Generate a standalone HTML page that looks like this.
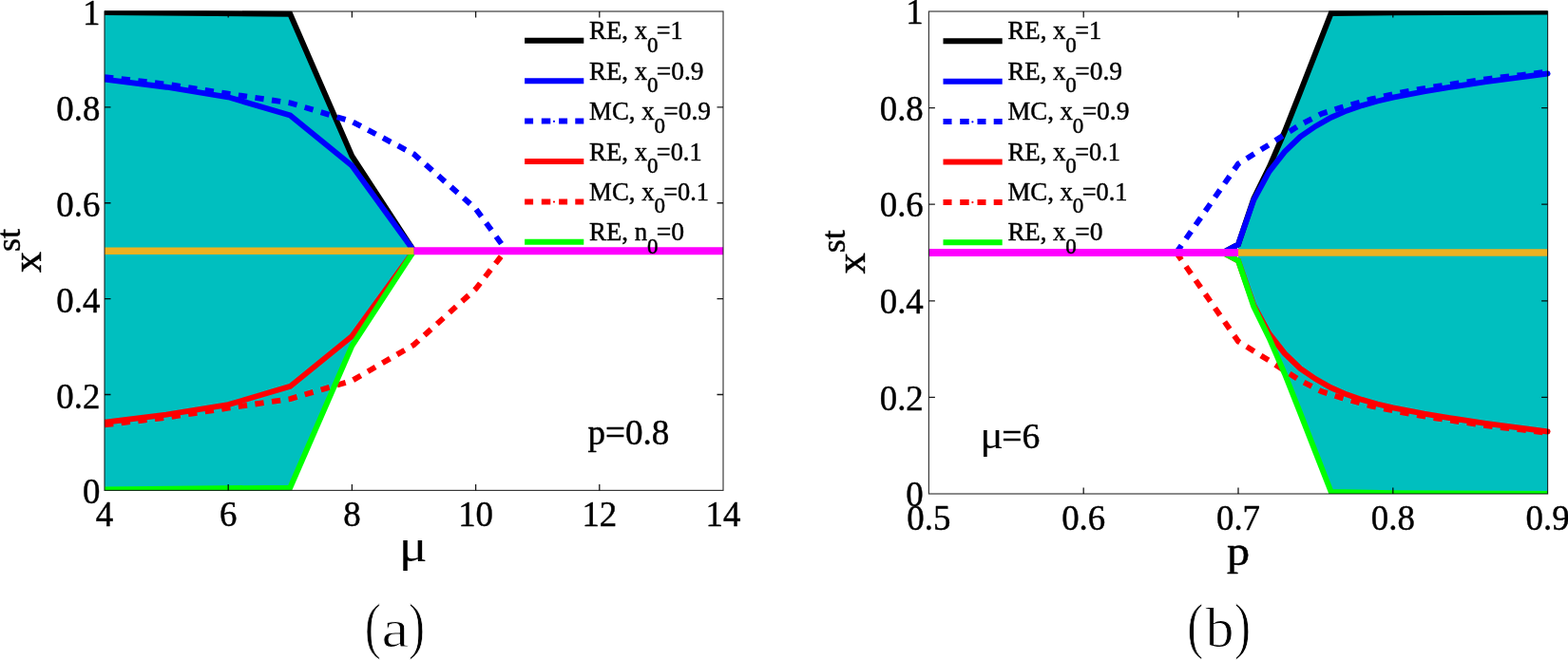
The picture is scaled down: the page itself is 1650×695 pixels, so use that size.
<!DOCTYPE html>
<html lang="en"><head><meta charset="utf-8"><title>Figure</title>
<style>
html,body{margin:0;padding:0;background:#fff;}
body{width:1650px;height:695px;overflow:hidden;}
svg{display:block;font-family:"Liberation Serif", "DejaVu Serif", serif;}
text{stroke:#000;stroke-width:0.45px;stroke-linejoin:round;}
</style></head>
<body>
<svg width="1650" height="695" viewBox="0 0 1650 695">
<rect width="1650" height="695" fill="#fff"/>
<clipPath id="clip1"><rect x="110" y="11.2" width="655" height="505.2"/></clipPath>
<g clip-path="url(#clip1)">
<polygon points="110,12 305.3,12 370.4,163.32 435.5,264.2 370.4,365.08 305.3,516.4 110,516.4" fill="#00bfbf"/>
<polyline points="110,13.01 305.3,14.77 370.4,164.33 435.5,264.2 761,264.2" fill="none" stroke="#000" stroke-width="5.9"/>
<polyline points="110,83.62 175.1,91.7 240.2,102.29 305.3,121.45 370.4,174.42 435.5,264.2" fill="none" stroke="#0000ff" stroke-width="5.9"/>
<polyline points="110,81.1 175.1,88.67 240.2,98.76 305.3,108.34 370.4,128.01 435.5,162.31 500.6,219.81 533.15,264.2" fill="none" stroke="#0000ff" stroke-width="5.9" stroke-dasharray="9.3 8.47"/>
<polyline points="110,444.78 175.1,436.7 240.2,426.11 305.3,406.95 370.4,353.98 435.5,264.2" fill="none" stroke="#ff0000" stroke-width="5.9"/>
<polyline points="110,447.3 175.1,439.73 240.2,429.64 305.3,420.06 370.4,400.89 435.5,363.06 500.6,304.25 531.85,264.2" fill="none" stroke="#ff0000" stroke-width="5.9" stroke-dasharray="9.3 8.47"/>
<polyline points="110,515.39 305.3,513.63 370.4,364.07 435.5,264.2 761,264.2" fill="none" stroke="#00ff00" stroke-width="5.9"/>
<polyline points="110,264.2 435.5,264.2" fill="none" stroke="#edb120" stroke-width="7.6"/>
<polyline points="435.5,264.2 761,264.2" fill="none" stroke="#ff00ff" stroke-width="7.9"/>
</g>
<rect x="110" y="12" width="651" height="504.4" fill="none" stroke="#000" stroke-opacity="0.8" stroke-width="1.15"/>
<path d="M240.2 516.4v-6.5M240.2 12v6.5M370.4 516.4v-6.5M370.4 12v6.5M500.6 516.4v-6.5M500.6 12v6.5M630.8 516.4v-6.5M630.8 12v6.5M110 415.52h6.5M761 415.52h-6.5M110 314.64h6.5M761 314.64h-6.5M110 213.76h6.5M761 213.76h-6.5M110 112.88h6.5M761 112.88h-6.5" stroke="#000" stroke-opacity="0.9" stroke-width="1.3" fill="none"/>
<g class="tk">
<text transform="translate(110 554.3) scale(0.95 1)" font-size="38.8" text-anchor="middle">4</text>
<text transform="translate(240.2 554.3) scale(0.95 1)" font-size="38.8" text-anchor="middle">6</text>
<text transform="translate(370.4 554.3) scale(0.95 1)" font-size="38.8" text-anchor="middle">8</text>
<text transform="translate(500.6 554.3) scale(0.95 1)" font-size="38.8" text-anchor="middle">10</text>
<text transform="translate(630.8 554.3) scale(0.95 1)" font-size="38.8" text-anchor="middle">12</text>
<text transform="translate(761 554.3) scale(0.95 1)" font-size="38.8" text-anchor="middle">14</text>
<text transform="translate(105.4 530.4) scale(0.95 1)" font-size="38.8" text-anchor="end">0</text>
<text transform="translate(105.4 429.52) scale(0.95 1)" font-size="38.8" text-anchor="end">0.2</text>
<text transform="translate(105.4 328.64) scale(0.95 1)" font-size="38.8" text-anchor="end">0.4</text>
<text transform="translate(105.4 227.76) scale(0.95 1)" font-size="38.8" text-anchor="end">0.6</text>
<text transform="translate(105.4 126.88) scale(0.95 1)" font-size="38.8" text-anchor="end">0.8</text>
<text transform="translate(105.4 26) scale(0.95 1)" font-size="38.8" text-anchor="end">1</text>
</g>
<g class="lg">
<path d="M552.1 42.8h62.2" stroke="#000" stroke-width="6" fill="none"/>
<text><tspan x="620.1" y="41.4" font-size="27.6" textLength="60.99" lengthAdjust="spacingAndGlyphs">RE, x</tspan><tspan x="680.99" y="54.7" font-size="22.6" textLength="11.53" lengthAdjust="spacingAndGlyphs">0</tspan><tspan x="690.79" y="41.4" font-size="27.6" textLength="27.9" lengthAdjust="spacingAndGlyphs">=1</tspan></text>
<path d="M552.1 85.2h62.2" stroke="#0000ff" stroke-width="6" fill="none"/>
<text><tspan x="620.1" y="83.8" font-size="27.6" textLength="60.99" lengthAdjust="spacingAndGlyphs">RE, x</tspan><tspan x="680.99" y="97.1" font-size="22.6" textLength="11.53" lengthAdjust="spacingAndGlyphs">0</tspan><tspan x="690.79" y="83.8" font-size="27.6" textLength="49.82" lengthAdjust="spacingAndGlyphs">=0.9</tspan></text>
<path d="M552.1 127.6h9M569.8 127.6h9.5M588.1 127.6h9M605.3 127.6h9" stroke="#0000ff" stroke-width="6" fill="none"/>
<circle cx="583" cy="127.8" r="1.1" fill="#0000ff"/>
<text><tspan x="620.1" y="126.2" font-size="27.6" textLength="68.43" lengthAdjust="spacingAndGlyphs">MC, x</tspan><tspan x="688.43" y="139.5" font-size="22.6" textLength="11.53" lengthAdjust="spacingAndGlyphs">0</tspan><tspan x="698.23" y="126.2" font-size="27.6" textLength="49.82" lengthAdjust="spacingAndGlyphs">=0.9</tspan></text>
<path d="M552.1 170h62.2" stroke="#ff0000" stroke-width="6" fill="none"/>
<text><tspan x="620.1" y="168.6" font-size="27.6" textLength="60.99" lengthAdjust="spacingAndGlyphs">RE, x</tspan><tspan x="680.99" y="181.9" font-size="22.6" textLength="11.53" lengthAdjust="spacingAndGlyphs">0</tspan><tspan x="690.79" y="168.6" font-size="27.6" textLength="47.81" lengthAdjust="spacingAndGlyphs">=0.1</tspan></text>
<path d="M552.1 212.4h9M569.8 212.4h9.5M588.1 212.4h9M605.3 212.4h9" stroke="#ff0000" stroke-width="6" fill="none"/>
<circle cx="583" cy="212.6" r="1.1" fill="#ff0000"/>
<text><tspan x="620.1" y="211" font-size="27.6" textLength="68.43" lengthAdjust="spacingAndGlyphs">MC, x</tspan><tspan x="688.43" y="224.3" font-size="22.6" textLength="11.53" lengthAdjust="spacingAndGlyphs">0</tspan><tspan x="698.23" y="211" font-size="27.6" textLength="47.81" lengthAdjust="spacingAndGlyphs">=0.1</tspan></text>
<path d="M552.1 254.8h62.2" stroke="#00ff00" stroke-width="6" fill="none"/>
<text><tspan x="620.1" y="253.4" font-size="27.6" textLength="60.99" lengthAdjust="spacingAndGlyphs">RE, n</tspan><tspan x="680.99" y="266.7" font-size="22.6" textLength="11.53" lengthAdjust="spacingAndGlyphs">0</tspan><tspan x="690.79" y="253.4" font-size="27.6" textLength="29.37" lengthAdjust="spacingAndGlyphs">=0</tspan></text>
</g>
<text transform="translate(618.4 468) scale(0.96 1)" font-size="38.7">p=0.8</text>
<text transform="translate(434.6 590.6) scale(1.14 1)" font-size="49" text-anchor="middle" style="stroke:none">μ</text>
<text transform="translate(43.3 287.3) rotate(-90)" font-size="44.7">x<tspan font-size="36" dy="-22.3">st</tspan></text>
<text y="680.7" style="stroke:#fff;stroke-width:0.9px"><tspan x="383.8" font-size="66" textLength="17.1" lengthAdjust="spacingAndGlyphs">(</tspan><tspan x="401.4" font-size="57.3" textLength="28.9" lengthAdjust="spacingAndGlyphs">a</tspan><tspan x="429.9" font-size="66" textLength="17.1" lengthAdjust="spacingAndGlyphs">)</tspan></text>
<clipPath id="clip2"><rect x="977.4" y="11.2" width="655.2" height="508.8"/></clipPath>
<g clip-path="url(#clip2)">
<polygon points="1303,266 1303,257.36 1319.28,209.1 1335.56,176.08 1351.84,138.49 1368.12,97.34 1384.4,55.69 1400.68,14.03 1628.6,12 1628.6,520 1400.68,517.97 1384.4,476.31 1368.12,434.66 1351.84,393.51 1335.56,355.92 1319.28,322.9 1303,274.64" fill="#00bfbf"/>
<polyline points="977.4,266 1286.72,266 1303,257.36 1319.28,209.1 1335.56,176.08 1351.84,138.49 1368.12,97.34 1384.4,55.69 1400.68,14.03 1465.8,13.27 1628.6,12.51" fill="none" stroke="#000" stroke-width="5.9"/>
<polyline points="1286.72,266 1303,257.36 1319.28,210.63 1335.56,180.66 1351.84,159.83 1368.12,144.08 1384.4,132.9 1400.68,123.76 1416.96,116.65 1433.24,111.06 1449.52,106.49 1465.8,102.68 1498.36,96.33 1530.92,90.99 1563.48,86.17 1596.04,81.85 1628.6,77.53" fill="none" stroke="#0000ff" stroke-width="5.9" stroke-linecap="round"/>
<polyline points="1237.88,266 1303,172.53 1335.56,152.21 1368.12,131.38 1390.91,119.7 1411.59,113.09 1443.01,104.46 1474.59,97.34 1506.01,91.76 1537.59,87.18 1569.18,82.61 1600.6,79.06 1628.6,75.5" fill="none" stroke="#0000ff" stroke-width="5.9" stroke-dasharray="9.3 8.47"/>
<polyline points="1286.72,266 1303,274.64 1319.28,321.37 1335.56,351.34 1351.84,372.17 1368.12,387.92 1384.4,399.1 1400.68,408.24 1416.96,415.35 1433.24,420.94 1449.52,425.51 1465.8,429.32 1498.36,435.67 1530.92,441.01 1563.48,445.83 1596.04,450.15 1628.6,454.47" fill="none" stroke="#ff0000" stroke-width="5.9" stroke-linecap="round"/>
<polyline points="1237.88,266 1303,359.47 1335.56,379.79 1368.12,400.62 1390.91,412.3 1411.59,418.91 1443.01,427.54 1474.59,434.15 1506.01,439.74 1537.59,444.31 1569.18,448.88 1600.6,452.44 1628.6,455.99" fill="none" stroke="#ff0000" stroke-width="5.9" stroke-dasharray="9.3 8.47"/>
<polyline points="977.4,266 1286.72,266 1303,274.64 1319.28,322.9 1335.56,355.92 1351.84,393.51 1368.12,434.66 1384.4,476.31 1400.68,517.97 1465.8,519.24 1628.6,520" fill="none" stroke="#00ff00" stroke-width="5.9"/>
<polyline points="1303,266 1628.6,266" fill="none" stroke="#edb120" stroke-width="7.6"/>
<polyline points="977.4,266 1303,266" fill="none" stroke="#ff00ff" stroke-width="7.9"/>
</g>
<rect x="977.4" y="12" width="651.2" height="508" fill="none" stroke="#000" stroke-opacity="0.8" stroke-width="1.15"/>
<path d="M1140.2 520v-6.5M1140.2 12v6.5M1303 520v-6.5M1303 12v6.5M1465.8 520v-6.5M1465.8 12v6.5M977.4 418.4h6.5M1628.6 418.4h-6.5M977.4 316.8h6.5M1628.6 316.8h-6.5M977.4 215.2h6.5M1628.6 215.2h-6.5M977.4 113.6h6.5M1628.6 113.6h-6.5" stroke="#000" stroke-opacity="0.9" stroke-width="1.3" fill="none"/>
<g class="tk">
<text transform="translate(977.4 557.9) scale(0.95 1)" font-size="38.8" text-anchor="middle">0.5</text>
<text transform="translate(1140.2 557.9) scale(0.95 1)" font-size="38.8" text-anchor="middle">0.6</text>
<text transform="translate(1303 557.9) scale(0.95 1)" font-size="38.8" text-anchor="middle">0.7</text>
<text transform="translate(1465.8 557.9) scale(0.95 1)" font-size="38.8" text-anchor="middle">0.8</text>
<text transform="translate(1628.6 557.9) scale(0.95 1)" font-size="38.8" text-anchor="middle">0.9</text>
<text transform="translate(971.8 533.2) scale(0.95 1)" font-size="38.8" text-anchor="end">0</text>
<text transform="translate(971.8 431.6) scale(0.95 1)" font-size="38.8" text-anchor="end">0.2</text>
<text transform="translate(971.8 330) scale(0.95 1)" font-size="38.8" text-anchor="end">0.4</text>
<text transform="translate(971.8 228.4) scale(0.95 1)" font-size="38.8" text-anchor="end">0.6</text>
<text transform="translate(971.8 126.8) scale(0.95 1)" font-size="38.8" text-anchor="end">0.8</text>
<text transform="translate(971.8 25.2) scale(0.95 1)" font-size="38.8" text-anchor="end">1</text>
</g>
<g class="lg">
<path d="M992.5 43.3h62.2" stroke="#000" stroke-width="6" fill="none"/>
<text><tspan x="1060.5" y="41.4" font-size="27.6" textLength="60.99" lengthAdjust="spacingAndGlyphs">RE, x</tspan><tspan x="1121.39" y="54.7" font-size="22.6" textLength="11.53" lengthAdjust="spacingAndGlyphs">0</tspan><tspan x="1131.19" y="41.4" font-size="27.6" textLength="27.9" lengthAdjust="spacingAndGlyphs">=1</tspan></text>
<path d="M992.5 85.7h62.2" stroke="#0000ff" stroke-width="6" fill="none"/>
<text><tspan x="1060.5" y="83.8" font-size="27.6" textLength="60.99" lengthAdjust="spacingAndGlyphs">RE, x</tspan><tspan x="1121.39" y="97.1" font-size="22.6" textLength="11.53" lengthAdjust="spacingAndGlyphs">0</tspan><tspan x="1131.19" y="83.8" font-size="27.6" textLength="49.82" lengthAdjust="spacingAndGlyphs">=0.9</tspan></text>
<path d="M992.5 128.1h9M1010.2 128.1h9.5M1028.5 128.1h9M1045.7 128.1h9" stroke="#0000ff" stroke-width="6" fill="none"/>
<circle cx="1023.4" cy="128.3" r="1.1" fill="#0000ff"/>
<text><tspan x="1060.5" y="126.2" font-size="27.6" textLength="68.43" lengthAdjust="spacingAndGlyphs">MC, x</tspan><tspan x="1128.83" y="139.5" font-size="22.6" textLength="11.53" lengthAdjust="spacingAndGlyphs">0</tspan><tspan x="1138.63" y="126.2" font-size="27.6" textLength="49.82" lengthAdjust="spacingAndGlyphs">=0.9</tspan></text>
<path d="M992.5 170.5h62.2" stroke="#ff0000" stroke-width="6" fill="none"/>
<text><tspan x="1060.5" y="168.6" font-size="27.6" textLength="60.99" lengthAdjust="spacingAndGlyphs">RE, x</tspan><tspan x="1121.39" y="181.9" font-size="22.6" textLength="11.53" lengthAdjust="spacingAndGlyphs">0</tspan><tspan x="1131.19" y="168.6" font-size="27.6" textLength="47.81" lengthAdjust="spacingAndGlyphs">=0.1</tspan></text>
<path d="M992.5 212.9h9M1010.2 212.9h9.5M1028.5 212.9h9M1045.7 212.9h9" stroke="#ff0000" stroke-width="6" fill="none"/>
<circle cx="1023.4" cy="213.1" r="1.1" fill="#ff0000"/>
<text><tspan x="1060.5" y="211" font-size="27.6" textLength="68.43" lengthAdjust="spacingAndGlyphs">MC, x</tspan><tspan x="1128.83" y="224.3" font-size="22.6" textLength="11.53" lengthAdjust="spacingAndGlyphs">0</tspan><tspan x="1138.63" y="211" font-size="27.6" textLength="47.81" lengthAdjust="spacingAndGlyphs">=0.1</tspan></text>
<path d="M992.5 255.3h62.2" stroke="#00ff00" stroke-width="6" fill="none"/>
<text><tspan x="1060.5" y="253.4" font-size="27.6" textLength="60.99" lengthAdjust="spacingAndGlyphs">RE, x</tspan><tspan x="1121.39" y="266.7" font-size="22.6" textLength="11.53" lengthAdjust="spacingAndGlyphs">0</tspan><tspan x="1131.19" y="253.4" font-size="27.6" textLength="29.37" lengthAdjust="spacingAndGlyphs">=0</tspan></text>
</g>
<text><tspan x="1031.3" y="472.3" font-size="40" textLength="24.66" lengthAdjust="spacingAndGlyphs" style="stroke:none">μ</tspan><tspan x="1054.3" y="472.3" font-size="38.7" textLength="40.06" lengthAdjust="spacingAndGlyphs">=6</tspan></text>
<text transform="translate(1291 595) scale(1.08 1)" font-size="44.7">p</text>
<text transform="translate(910.4 288.6) rotate(-90)" font-size="44.7">x<tspan font-size="36" dy="-21.9">st</tspan></text>
<text y="680.7" style="stroke:#fff;stroke-width:0.9px"><tspan x="1249.3" font-size="66" textLength="17.1" lengthAdjust="spacingAndGlyphs">(</tspan><tspan x="1268.7" font-size="60" textLength="29.6" lengthAdjust="spacingAndGlyphs">b</tspan><tspan x="1298.9" font-size="66" textLength="17.1" lengthAdjust="spacingAndGlyphs">)</tspan></text>
</svg>
</body></html>
